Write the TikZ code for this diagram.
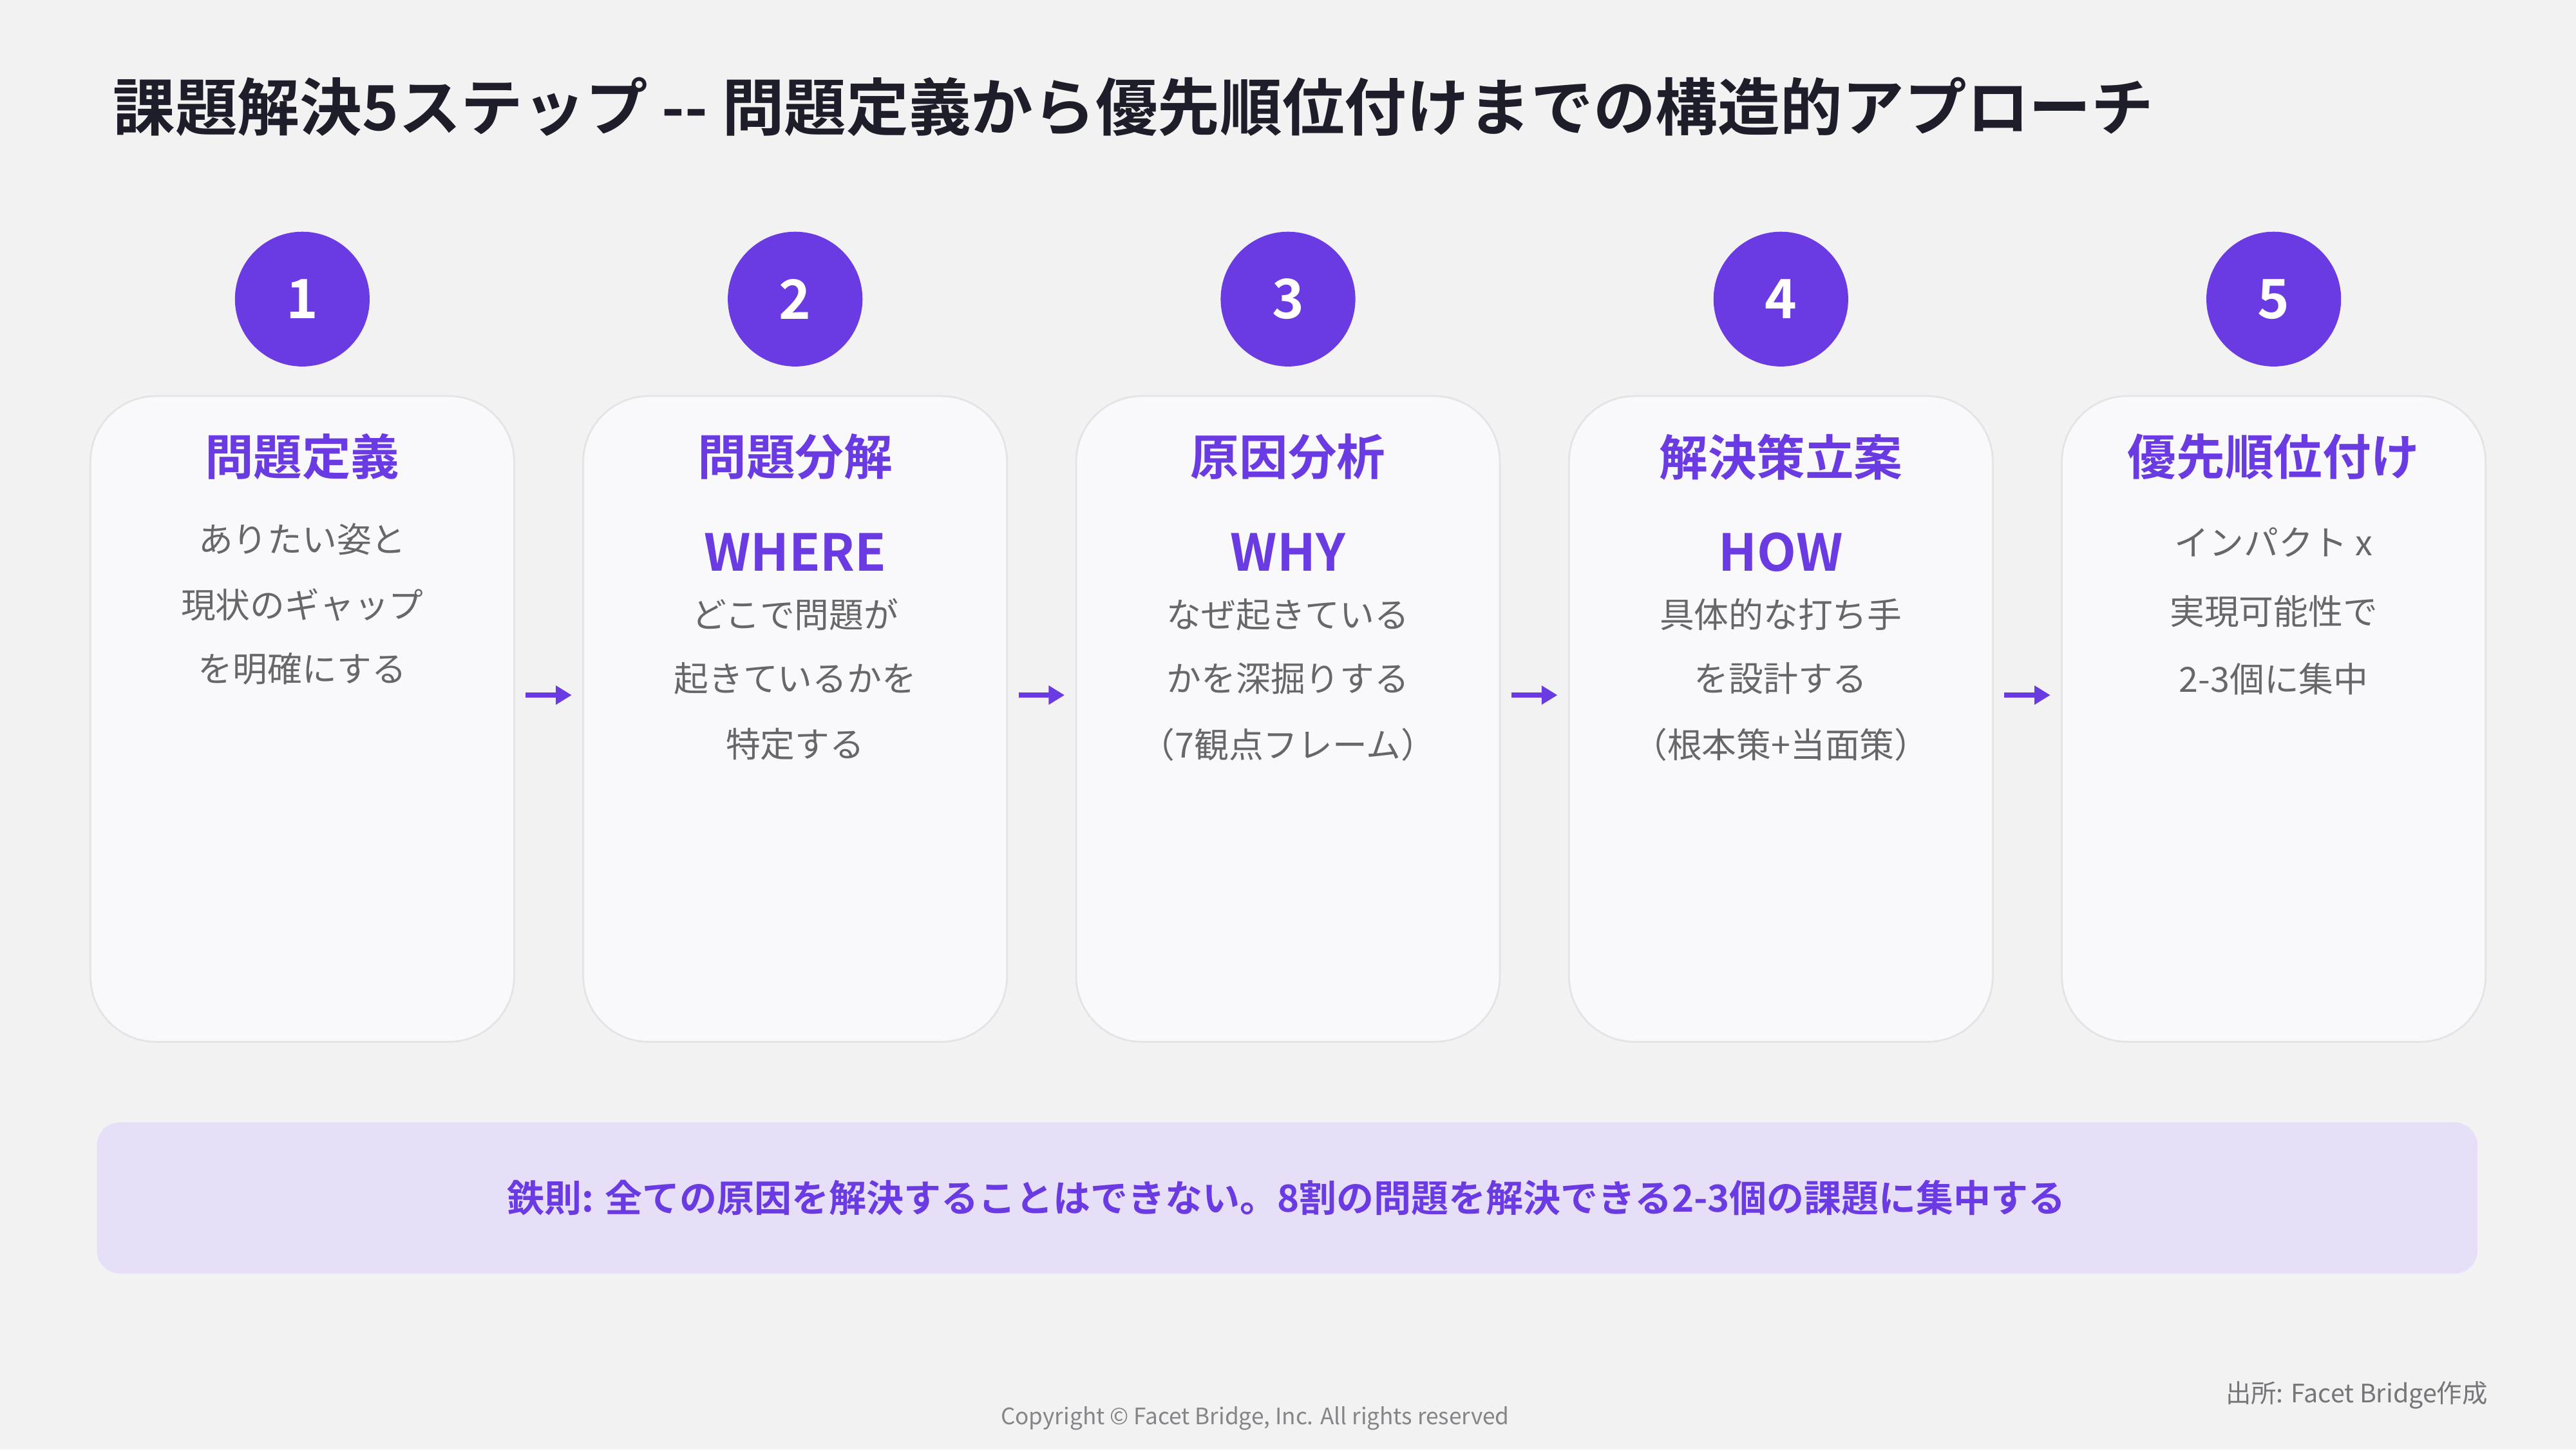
\documentclass[tikz,border=0pt]{standalone}
\usepackage{fontspec}
\setmainfont{Noto Sans CJK JP}[BoldFont={* Bold}]
\usetikzlibrary{arrows.meta}
\definecolor{bg}{HTML}{F2F2F2}
\definecolor{pur}{HTML}{6A3BE2}
\definecolor{card}{HTML}{F9F9FB}
\definecolor{cardline}{HTML}{E4E4E8}
\definecolor{txt}{HTML}{66666B}
\definecolor{ttl}{HTML}{1E1E2A}
\definecolor{band}{HTML}{E7DEF8}
\begin{document}
\begin{tikzpicture}[x=0.025510cm,y=-0.025510cm,
 num/.style={circle,fill=pur,minimum size=82*0.02551cm,inner sep=0,text=white,font=\bfseries\fontsize{24}{28}\selectfont},
 cardbox/.style={draw=cardline,line width=0.8pt,fill=card,rounded corners=40*0.02551cm},
 ctitle/.style={text=pur,font=\bfseries\fontsize{21.5}{25}\selectfont},
 key/.style={text=pur,font=\bfseries\fontsize{22.5}{26}\selectfont},
 body/.style={text=txt,font=\fontsize{15.3}{18}\selectfont},
 arr/.style={-{Triangle[length=7pt,width=8pt]},pur,line width=2.2pt}]
\fill[bg] (0,0) rectangle (1568,882);
\useasboundingbox (0,0) rectangle (1568,882);
\node[anchor=west,text=ttl,font=\bfseries\fontsize{27.5}{30}\selectfont] (title) at (64,65) {課題解決5ステップ {-}{-} 問題定義から優先順位付けまでの構造的アプローチ};
\foreach \i/\x in {1/184,2/484,3/784,4/1084,5/1384}{
  \draw[cardbox] (\x-129,241) rectangle (\x+129,634);
  \node[num] (n\i) at (\x,182) {\i};
}
\node[ctitle] (t1) at (184,278) {問題定義};
\node[ctitle] (t2) at (484,278) {問題分解};
\node[ctitle] (t3) at (784,278) {原因分析};
\node[ctitle] (t4) at (1084,278) {解決策立案};
\node[ctitle] (t5) at (1384,278) {優先順位付け};
\node[body] (b1a) at (184,328) {ありたい姿と};
\node[body] (b1b) at (184,368) {現状のギャップ};
\node[body] (b1c) at (184,407) {を明確にする};
\node[key] (k2) at (484,336) {WHERE};
\node[body] (b2a) at (484,374) {どこで問題が};
\node[body] (b2b) at (484,413) {起きているかを};
\node[body] (b2c) at (484,453) {特定する};
\node[key] (k3) at (784,336) {WHY};
\node[body] (b3a) at (784,374) {なぜ起きている};
\node[body] (b3b) at (784,413) {かを深掘りする};
\node[body] (b3c) at (784,453) {（7観点フレーム）};
\node[key] (k4) at (1084,336) {HOW};
\node[body] (b4a) at (1084,374) {具体的な打ち手};
\node[body] (b4b) at (1084,413) {を設計する};
\node[body] (b4c) at (1084,453) {（根本策+当面策）};
\node[body] (b5a) at (1384,330) {インパクト x};
\node[body] (b5b) at (1384,372) {実現可能性で};
\node[body] (b5c) at (1384,413) {2-3個に集中};
\foreach \x [count=\j] in {320,620,920,1220}{
  \coordinate (a\j) at (\x,423); \coordinate (e\j) at (\x+28,423);
  \draw[arr] (a\j) -- (e\j);
}
\fill[band,rounded corners=14*0.02551cm] (59,683) rectangle (1508,775);
\node[text=pur,font=\bfseries\fontsize{16.5}{19}\selectfont] (rule) at (783,729) {鉄則: 全ての原因を解決することはできない。8割の問題を解決できる2-3個の課題に集中する};
\node[text=txt!80,font=\fontsize{10}{12}\selectfont] (copy) at (764,863) {Copyright © Facet Bridge, Inc. All rights reserved};
\node[anchor=east,text=txt!90,font=\fontsize{11.2}{13}\selectfont] (src) at (1519,849) {出所: Facet Bridge作成};
\end{tikzpicture}
\end{document}
